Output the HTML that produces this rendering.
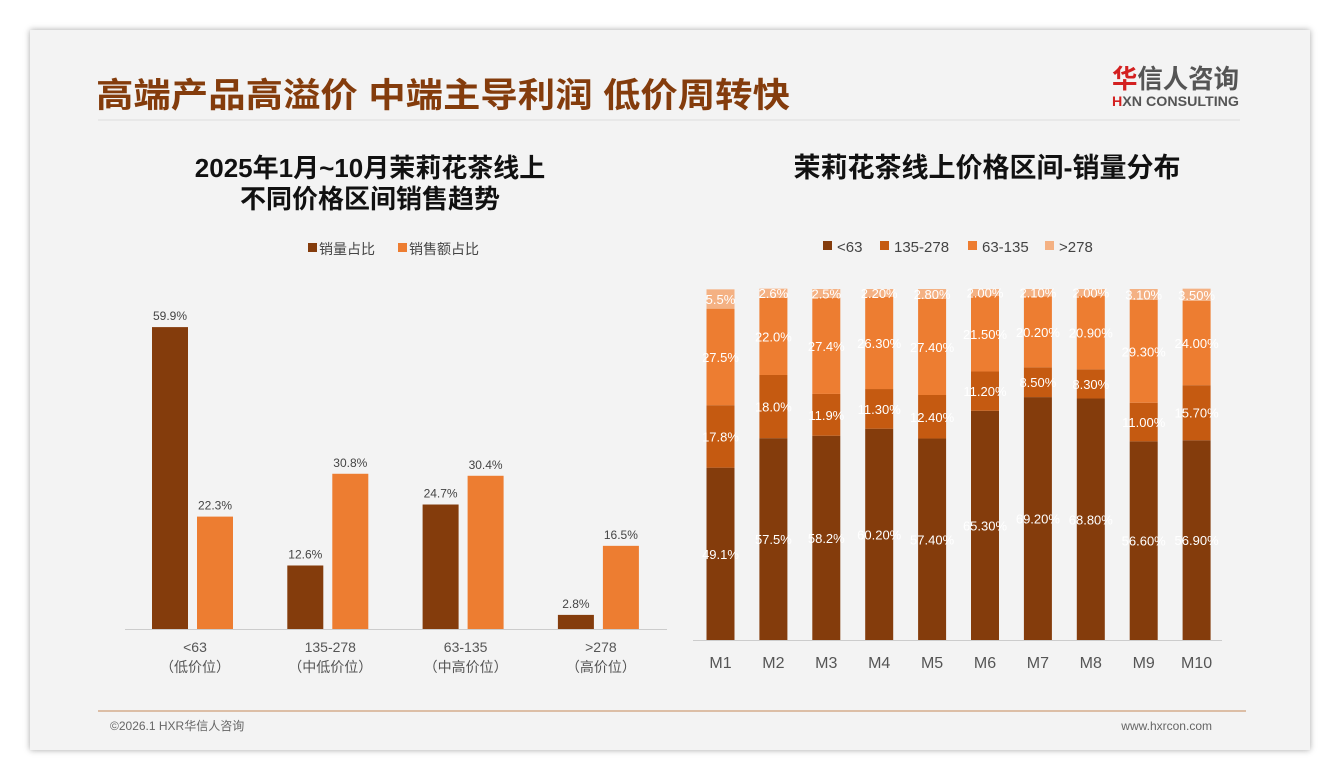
<!DOCTYPE html>
<html><head><meta charset="utf-8"><style>
body{margin:0;width:1340px;height:780px;background:#fff;overflow:hidden;font-family:"Liberation Sans","Noto Sans CJK SC",sans-serif}
#card{position:absolute;left:30px;top:30px;width:1280px;height:720px;background:#f3f3f3;box-shadow:0 0 6px rgba(0,0,0,.35)}
</style></head><body>
<div id="card"></div>
<svg width="1340" height="780" style="position:absolute;left:0;top:0" font-family="Liberation Sans, Noto Sans CJK SC, sans-serif">
<text x="96" y="107" font-size="34" font-weight="bold" fill="#843C0C" textLength="694" lengthAdjust="spacingAndGlyphs">高端产品高溢价 中端主导利润 低价周转快</text>
<line x1="98" y1="120" x2="1240" y2="120" stroke="#ddd" stroke-width="1"/>
<text x="1112" y="88" font-size="26" font-weight="bold" fill="#555" textLength="127" lengthAdjust="spacingAndGlyphs"><tspan fill="#d32020">华</tspan>信人咨询</text>
<text x="1112" y="106" font-size="14" font-weight="bold" fill="#555" textLength="127" lengthAdjust="spacingAndGlyphs"><tspan fill="#d32020">H</tspan>XN CONSULTING</text>
<line x1="98" y1="711" x2="1246" y2="711" stroke="#C58A5A" stroke-width="1"/>
<text x="110" y="730" font-size="12" fill="#666">©2026.1 HXR华信人咨询</text>
<text x="1212" y="730" font-size="12" fill="#666" text-anchor="end">www.hxrcon.com</text>
<text x="370" y="177" font-size="26" font-weight="bold" fill="#111" text-anchor="middle">2025年1月~10月茉莉花茶线上</text>
<text x="370" y="208" font-size="26" font-weight="bold" fill="#111" text-anchor="middle">不同价格区间销售趋势</text>
<text x="987" y="177" font-size="27" font-weight="bold" fill="#111" text-anchor="middle">茉莉花茶线上价格区间-销量分布</text>
<g id="left"></g><g id="right"></g>
</svg>
<script>
const NS="http://www.w3.org/2000/svg";
function mk(p,t,a,txt){const e=document.createElementNS(NS,t);for(const k in a)e.setAttribute(k,a[k]);if(txt!=null)e.textContent=txt;p.appendChild(e);return e;}
// left chart data
const leftCats=["<63","135-278","63-135",">278"];
const leftSub=["（低价位）","（中低价位）","（中高价位）","（高价位）"];
const volShare=[59.9,12.6,24.7,2.8];
const salesShare=[22.3,30.8,30.4,16.5];
const leftSeriesNames=["销量占比","销售额占比"];
// right chart data
const months=["M1","M2","M3","M4","M5","M6","M7","M8","M9","M10"];
const seriesNames=["<63","135-278","63-135",">278"];
const sLow=[49.1,57.5,58.2,60.2,57.4,65.3,69.2,68.8,56.6,56.9];
const sMid=[17.8,18.0,11.9,11.3,12.4,11.2,8.5,8.3,11.0,15.7];
const sMidHigh=[27.5,22.0,27.4,26.3,27.4,21.5,20.2,20.9,29.3,24.0];
const sHigh=[5.5,2.6,2.5,2.2,2.8,2.0,2.1,2.0,3.1,3.5];
const lowLbl=["49.1%","57.5%","58.2%","60.20%","57.40%","65.30%","69.20%","68.80%","56.60%","56.90%"];
const midLbl=["17.8%","18.0%","11.9%","11.30%","12.40%","11.20%","8.50%","8.30%","11.00%","15.70%"];
const mhLbl=["27.5%","22.0%","27.4%","26.30%","27.40%","21.50%","20.20%","20.90%","29.30%","24.00%"];
const hiLbl=["5.5%","2.6%","2.5%","2.20%","2.80%","2.00%","2.10%","2.00%","3.10%","3.50%"];

const L=document.getElementById('left');
const lx=i=>195+i*135.3, ly=v=>629-v*5.04;
mk(L,'line',{x1:125,y1:629.5,x2:667,y2:629.5,stroke:'#ccc'});
const lcol=["#843C0C","#ED7D31"];
[volShare,salesShare].forEach((arr,s)=>{arr.forEach((v,i)=>{
 const x=lx(i)-43+s*45;
 const r=mk(L,'rect',{x:x,y:ly(v),width:36,height:629-ly(v),fill:lcol[s]});
 
 
 mk(L,'text',{x:x+18,y:ly(v)-7,'font-size':12,fill:'#444','text-anchor':'middle'},v.toFixed(1)+'%');
});});
leftCats.forEach((c,i)=>{mk(L,'text',{x:lx(i),y:652,'font-size':14,fill:'#555','text-anchor':'middle'},c);
 mk(L,'text',{x:lx(i),y:672,'font-size':14,fill:'#555','text-anchor':'middle'},leftSub[i]);});
leftSeriesNames.forEach((n,i)=>{const x=308+i*90;
 const r=mk(L,'rect',{x:x,y:243,width:9,height:9,fill:lcol[i]});
 
 mk(L,'text',{x:x+11,y:254,'font-size':14,fill:'#444'},n);});

const R=document.getElementById('right');
const rx=i=>720.5+i*52.9, ry=v=>640-v*3.51;
mk(R,'line',{x1:693,y1:640.5,x2:1222,y2:640.5,stroke:'#ccc'});
const rcol=["#843C0C","#C55A11","#ED7D31","#F4B183"];
const stacks=[sLow,sMid,sMidHigh,sHigh], lbls=[lowLbl,midLbl,mhLbl,hiLbl];
months.forEach((m,i)=>{let cum=0;
 stacks.forEach((arr,s)=>{const v=arr[i];const y0=ry(cum),y1=ry(cum+v);
  const r=mk(R,'rect',{x:rx(i)-14,y:y1,width:28,height:y0-y1,fill:rcol[s]});
  
  mk(R,'text',{x:rx(i),y:(y0+y1)/2+5,'font-size':13,fill:'#fff','text-anchor':'middle'},lbls[s][i]);
  cum+=v;});
 mk(R,'text',{x:rx(i),y:668,'font-size':16,fill:'#555','text-anchor':'middle'},m);});
const lgx=[823,880,968,1045];
seriesNames.forEach((n,i)=>{const r=mk(R,'rect',{x:lgx[i],y:241,width:9,height:9,fill:rcol[i]});
 
 mk(R,'text',{x:lgx[i]+14,y:252,'font-size':15,fill:'#444'},n);});
</script>
</body></html>
